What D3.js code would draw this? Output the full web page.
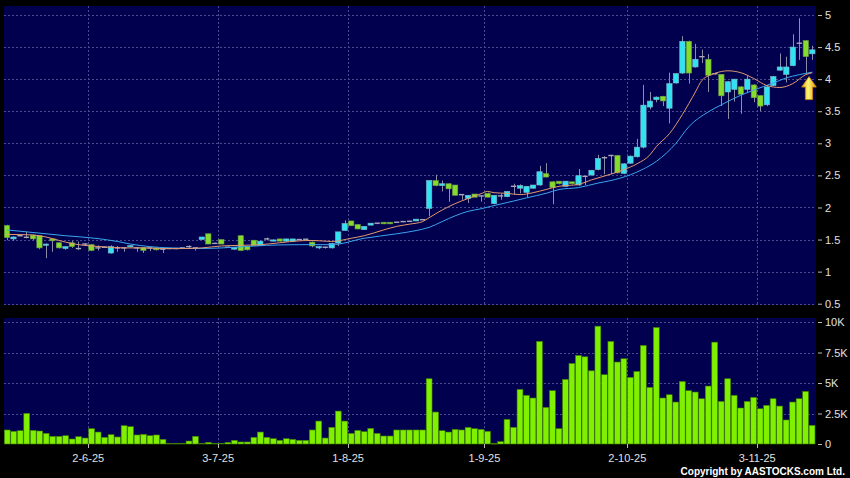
<!DOCTYPE html>
<html><head><meta charset="utf-8">
<script src="https://cdn.jsdelivr.net/npm/d3@7"></script>
<style>html,body{margin:0;padding:0;background:#000;} svg{display:block;}</style>
</head><body><svg id="chart" width="850" height="478"></svg>
<script>
// ---- DATA ----
const opens = [1.72,1.51,1.56,1.535,1.57,1.56,1.41,1.51,1.45,1.36,1.45,1.36,1.43,1.42,1.37,1.38,1.29,1.37,1.37,1.386,
1.37,1.375,1.37,1.37,1.35,1.36,1.36,1.37,1.39,1.37,1.50,1.59,1.44,1.50,1.38,1.35,1.56,1.39,1.49,1.41,
1.51,1.475,1.51,1.475,1.475,1.50,1.505,1.46,1.37,1.38,1.37,1.445,1.64,1.79,1.735,1.655,1.725,1.755,1.77,1.77,
1.77,1.78,1.785,1.79,1.81,1.985,2.42,2.34,2.37,2.35,2.20,2.14,2.21,2.18,2.22,2.06,2.18,2.17,2.33,2.30,
2.235,2.30,2.35,2.527,2.40,2.41,2.33,2.40,2.35,2.485,2.505,2.59,2.775,2.81,2.81,2.53,2.69,2.79,2.94,3.565,
3.68,3.733,3.547,3.94,4.095,4.59,4.19,4.35,4.31,4.085,4.075,3.80,3.84,3.88,3.84,3.91,3.744,3.60,3.90,4.14,
4.075,4.21,4.56,4.60,4.395];
const highs = [1.73,1.55,1.57,1.62,1.58,1.565,1.44,1.52,1.46,1.39,1.48,1.47,1.44,1.43,1.41,1.39,1.41,1.40,1.37,1.41,
1.37,1.38,1.37,1.37,1.36,1.36,1.37,1.37,1.41,1.37,1.54,1.59,1.45,1.50,1.39,1.38,1.57,1.39,1.49,1.48,
1.53,1.50,1.51,1.51,1.51,1.51,1.51,1.47,1.40,1.39,1.45,1.62,1.80,1.79,1.74,1.71,1.76,1.76,1.77,1.77,
1.77,1.78,1.79,1.82,1.82,2.42,2.51,2.42,2.38,2.35,2.21,2.19,2.21,2.19,2.23,2.19,2.22,2.25,2.37,2.36,
2.33,2.35,2.65,2.69,2.41,2.41,2.41,2.40,2.60,2.49,2.58,2.82,2.80,2.82,2.82,2.69,2.81,3.07,3.91,3.80,
3.73,3.74,4.10,4.09,4.67,4.60,4.55,4.46,4.39,4.10,4.08,3.97,4.00,3.89,4.06,3.92,3.75,3.89,4.05,4.40,
4.35,4.70,4.95,4.61,4.52];
const lows = [1.49,1.48,1.55,1.52,1.49,1.35,1.21,1.31,1.36,1.34,1.37,1.34,1.41,1.32,1.33,1.37,1.28,1.31,1.31,1.38,
1.31,1.29,1.32,1.33,1.29,1.35,1.35,1.36,1.37,1.33,1.50,1.43,1.43,1.43,1.37,1.34,1.32,1.33,1.41,1.40,
1.49,1.47,1.47,1.47,1.47,1.49,1.50,1.38,1.35,1.36,1.36,1.40,1.64,1.71,1.66,1.65,1.72,1.75,1.74,1.74,
1.76,1.77,1.78,1.79,1.80,1.86,2.33,2.25,2.09,2.19,2.12,2.07,2.16,2.09,2.16,2.05,2.12,2.16,2.20,2.22,
2.16,2.29,2.34,2.47,2.05,2.36,2.32,2.36,2.34,2.35,2.50,2.58,2.52,2.52,2.53,2.52,2.68,2.78,2.92,3.53,
3.64,3.58,3.31,3.93,4.08,3.93,4.18,4.25,3.80,4.07,3.58,3.38,3.65,3.46,3.78,3.64,3.50,3.58,3.89,4.13,
3.95,4.20,4.30,4.09,4.30];
const closes = [1.53,1.54,1.56,1.535,1.51,1.37,1.43,1.48,1.37,1.39,1.39,1.36,1.43,1.33,1.37,1.38,1.39,1.37,1.37,1.405,
1.37,1.33,1.37,1.34,1.35,1.36,1.36,1.37,1.39,1.37,1.54,1.43,1.44,1.43,1.38,1.38,1.33,1.34,1.41,1.475,
1.51,1.495,1.475,1.51,1.51,1.50,1.505,1.40,1.39,1.38,1.44,1.62,1.75,1.715,1.665,1.705,1.755,1.755,1.745,1.745,
1.77,1.78,1.785,1.818,1.81,2.42,2.34,2.37,2.29,2.19,2.20,2.19,2.16,2.18,2.16,2.19,2.18,2.25,2.33,2.34,
2.33,2.35,2.557,2.474,2.31,2.37,2.41,2.37,2.495,2.485,2.58,2.765,2.775,2.81,2.54,2.68,2.80,2.94,3.595,3.658,
3.72,3.66,3.93,4.085,4.59,4.095,4.31,4.35,4.06,4.085,3.74,3.96,4.00,3.765,4.00,3.71,3.58,3.88,4.04,4.19,
4.19,4.50,4.56,4.35,4.457];
const volumes = [1150,1040,1090,2510,1120,1065,870,630,630,680,410,600,490,1255,980,545,765,575,1500,1420,
740,790,680,740,380,50,50,50,245,630,50,135,50,50,135,300,165,165,545,980,
545,435,300,435,380,300,300,1150,1880,490,1365,2700,1880,870,1120,1010,1280,870,655,655,
1150,1150,1150,1150,1150,5350,2620,1090,980,1200,1150,1365,1255,1200,1040,40,190,2020,1365,4480,
3990,3770,8410,3000,4370,1255,5300,6600,7260,7150,6000,9660,5680,8410,6720,6990,5460,5950,8080,4640,
9550,3770,4040,3440,5130,4370,4260,3710,4750,8350,3490,5350,3990,2950,3490,3820,2890,3170,3710,3110,
1970,3440,3710,4310,1530];
// moving averages, read at selected candles
const ma10Idx = [0,3,5,7,9,11,13,15,18,21,24,27,30,33,36,39,42,45,47,50,53,55,58,60,62,64,65,67,69,71,73,74,75,77,79,81,83,85,88,90,93,95,97,99,100,102,104,106,107,109,111,113,115,117,119,121,123,124];
const ma10Val = [1.58,1.575,1.56,1.515,1.46,1.42,1.40,1.385,1.37,1.37,1.36,1.36,1.37,1.40,1.41,1.42,1.45,1.48,1.486,1.47,1.52,1.56,1.65,1.705,1.74,1.78,1.84,1.96,2.06,2.14,2.215,2.25,2.23,2.22,2.20,2.23,2.28,2.33,2.36,2.43,2.52,2.59,2.68,2.82,2.95,3.15,3.45,3.80,3.98,4.09,4.13,4.10,4.01,3.90,3.87,3.93,4.07,4.10];
const ma20Idx = [0,4,9,14,17,19,22,25,30,35,40,45,50,55,60,63,65,67,69,71,73,75,78,80,83,85,88,91,93,96,98,100,103,105,108,110,113,115,118,120,122,124];
const ma20Val = [1.65,1.61,1.56,1.515,1.47,1.43,1.39,1.37,1.36,1.38,1.41,1.42,1.42,1.52,1.59,1.64,1.69,1.78,1.87,1.94,1.98,2.03,2.10,2.15,2.22,2.28,2.31,2.38,2.42,2.51,2.60,2.72,3.0,3.26,3.49,3.60,3.75,3.83,3.94,4.02,4.07,4.11];
const dateTickIdx = [13,33,53,74,96,116];
const dateTickLabels = ["2-6-25","3-7-25","1-8-25","1-9-25","2-10-25","3-11-25"];
const priceTicks = [0.5,1,1.5,2,2.5,3,3.5,4,4.5,5];
const volTicks = [0,2500,5000,7500,10000];
const volTickLabels = ["0","2.5K","5K","7.5K","10K"];
const arrowIdx = 124, arrowPrice = 4.04;

// ---- CHART ----
const svg = d3.select("#chart");
svg.append("rect").attr("width",850).attr("height",478).attr("fill","#000");
const L = 4, R = 816;
const P = {top:6, bottom:305};
const V = {top:318, bottom:444};
const navy = "#00004f", gridC = "#4a4a8e", txtC = "#e0e0e0";
const font = "'Liberation Sans', Arial, sans-serif";

const idx = d3.range(closes.length);
const x = d3.scaleBand().domain(idx).range([L, 815.3]).paddingInner(0.18).paddingOuter(0.05);
const xv = d3.scaleBand().domain(idx).range([L, 815.3]).paddingInner(0.1).paddingOuter(0.05);
const step = x.step();
const cx = i => x(i) + x.bandwidth()/2;
const y = d3.scaleLinear().domain([0.48, 5.14]).range([P.bottom, P.top]);
const yv = d3.scaleLinear().domain([0, 10330]).range([V.bottom, V.top]);

// panels
svg.append("rect").attr("x",L).attr("y",P.top).attr("width",R-L).attr("height",P.bottom-P.top).attr("fill",navy);
svg.append("rect").attr("x",L).attr("y",V.top).attr("width",R-L).attr("height",V.bottom-V.top).attr("fill",navy);

const tickX = i => L + step*0.05 + step*i - 0.5;
// grid
const g = svg.append("g").attr("stroke",gridC).attr("stroke-dasharray","2,2").attr("stroke-width",1);
g.selectAll(".hp").data(priceTicks).join("line")
  .attr("x1",L).attr("x2",R).attr("y1",d=>Math.round(y(d))+0.5).attr("y2",d=>Math.round(y(d))+0.5);
g.selectAll(".hv").data(volTicks.filter(d=>d>0)).join("line")
  .attr("x1",L).attr("x2",R).attr("y1",d=>Math.round(yv(d))+0.5).attr("y2",d=>Math.round(yv(d))+0.5);
g.selectAll(".vp").data(dateTickIdx).join("line")
  .attr("x1",d=>Math.round(tickX(d))+0.5).attr("x2",d=>Math.round(tickX(d))+0.5).attr("y1",P.top).attr("y2",P.bottom);
g.selectAll(".vv").data(dateTickIdx).join("line")
  .attr("x1",d=>Math.round(tickX(d))+0.5).attr("x2",d=>Math.round(tickX(d))+0.5).attr("y1",V.top).attr("y2",V.bottom);

// volume bars
svg.append("g").selectAll("rect").data(idx).join("rect")
  .attr("x",i=>xv(i)).attr("width",xv.bandwidth())
  .attr("y",i=>yv(volumes[i])).attr("height",i=>Math.max(0.6, V.bottom - yv(volumes[i])))
  .attr("fill","#80f000").attr("stroke","#3f8000").attr("stroke-width",0.6);

// candles
const wickC = "#8c8ca6", dojiC = "#a8a8b8";
const cg = svg.append("g");
cg.selectAll("line.w").data(idx).join("line")
  .attr("x1",i=>Math.round(cx(i))+0.5).attr("x2",i=>Math.round(cx(i))+0.5)
  .attr("y1",i=>y(highs[i])).attr("y2",i=>y(lows[i]))
  .attr("stroke",wickC).attr("stroke-width",1);
idx.forEach(i=>{
  const o=opens[i], c=closes[i];
  if (Math.abs(o-c) < 0.004) {
    cg.append("line").attr("x1",x(i)).attr("x2",x(i)+x.bandwidth())
      .attr("y1",y(c)).attr("y2",y(c)).attr("stroke",dojiC).attr("stroke-width",1.4);
  } else {
    const up = c > o;
    cg.append("rect").attr("x",x(i)).attr("width",x.bandwidth())
      .attr("y",y(Math.max(o,c))).attr("height",Math.max(1,Math.abs(y(o)-y(c))))
      .attr("fill", up ? "#33e2f2" : "#86dc2c")
      .attr("stroke", up ? "#7fb9c8" : "#6a9a40").attr("stroke-width",0.6);
  }
});

// moving averages
const line = d3.line().x(d=>cx(d[0])).y(d=>y(d[1])).curve(d3.curveMonotoneX);
svg.append("path").attr("d", line(ma20Idx.map((d,k)=>[d, ma20Val[k]])))
  .attr("fill","none").attr("stroke","#3aa6ee").attr("stroke-width",1);
svg.append("path").attr("d", line(ma10Idx.map((d,k)=>[d, ma10Val[k]])))
  .attr("fill","none").attr("stroke","#e39a6c").attr("stroke-width",1);

// arrow
const defs = svg.append("defs");
const gr = defs.append("linearGradient").attr("id","ag").attr("x1","0").attr("x2","1").attr("y1","0").attr("y2","0");
gr.append("stop").attr("offset","0").attr("stop-color","#e8a400");
gr.append("stop").attr("offset","0.45").attr("stop-color","#fff27a");
gr.append("stop").attr("offset","1").attr("stop-color","#e09a00");
const ax = x(arrowIdx) - step*0.1, ay = y(arrowPrice);
const apts = [[0,0],[-7.3,10.5],[-3.6,10.5],[-3.6,23],[3.6,23],[3.6,10.5],[7.3,10.5]];
svg.append("polygon").attr("points", apts.map(p=>[ax+p[0], ay+p[1]].join(",")).join(" "))
  .attr("fill","url(#ag)").attr("stroke","#c98a00").attr("stroke-width",0.8);

// price axis
const pa = svg.append("g").attr("transform",`translate(818,0)`)
  .call(d3.axisRight(y).tickValues(priceTicks).tickSize(4).tickPadding(3).tickFormat(d3.format("")));
pa.select(".domain").remove();
pa.selectAll("line").attr("stroke","#bbbbbb");
pa.selectAll("text").attr("fill",txtC).style("font-family",font).style("font-size","11px");

const va = svg.append("g").attr("transform",`translate(818,0)`)
  .call(d3.axisRight(yv).tickValues(volTicks).tickSize(4).tickPadding(3).tickFormat((d,k)=>volTickLabels[k]));
va.select(".domain").remove();
va.selectAll("line").attr("stroke","#bbbbbb");
va.selectAll("text").attr("fill",txtC).style("font-family",font).style("font-size","11px");

// date axis
const dg = svg.append("g");
dg.selectAll("line").data(dateTickIdx).join("line")
  .attr("x1",d=>Math.round(tickX(d))+0.5).attr("x2",d=>Math.round(tickX(d))+0.5)
  .attr("y1",V.bottom).attr("y2",V.bottom+4).attr("stroke","#bbbbbb");
dg.selectAll("text").data(dateTickIdx).join("text")
  .attr("x",d=>tickX(d)).attr("y",462).attr("text-anchor","middle")
  .attr("fill",txtC).style("font-family",font).style("font-size","11px")
  .text((d,k)=>dateTickLabels[k]);

svg.append("text").attr("x",845).attr("y",475).attr("text-anchor","end")
  .attr("fill","#ffffff").style("font-family",font).style("font-size","10px").style("font-weight","bold")
  .text("Copyright by AASTOCKS.com Ltd.");
</script>
</body></html>
